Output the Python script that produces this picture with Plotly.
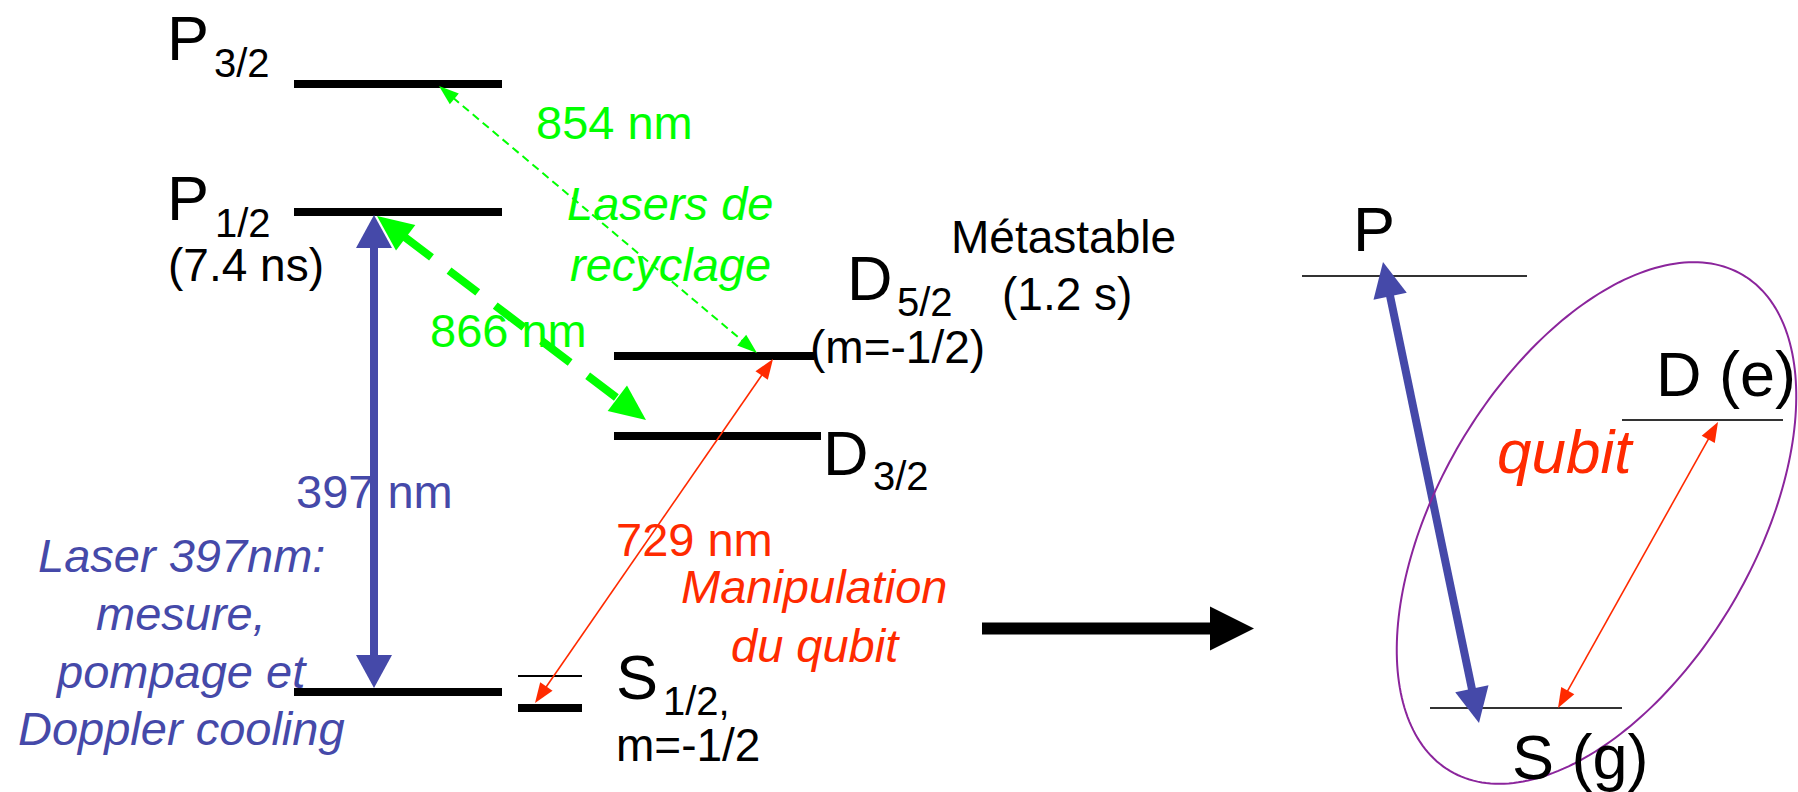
import numpy as np
import plotly.graph_objects as go

W, H = 1798, 792

BLACK = "#000000"
GREEN = "#00FF00"
RED = "#FF2A00"
BLUE = "#4549A9"
PURPLE = "#8B259C"
GREY = "#333333"

# ---------------- energy levels (left: Ca+ full scheme, right: 3-level) ----------------
level_names = ["P3/2", "P1/2", "D5/2", "D3/2", "S1/2", "S1/2 (m=+1/2)", "S1/2 (m=-1/2)",
               "P", "D (e)", "S (g)"]
level_y = [84, 212, 356, 436, 692, 676, 708, 276, 420, 708]
level_x0 = [294, 294, 614, 614, 294, 518, 518, 1302, 1622, 1430]
level_x1 = [502, 502, 814, 821, 502, 582, 582, 1527, 1783, 1622]
level_width = [8, 8, 8, 8, 8, 2, 8, 2, 2, 2]
level_color = [BLACK] * 7 + [GREY] * 3

# ---------------- transitions (endpoints on the levels) ----------------
trans_names = ["397 nm", "866 nm", "854 nm", "729 nm", "P-S", "qubit", "map"]
trans_x0 = [374, 377, 439, 773, 1383, 1718, 982]
trans_y0 = [215, 216, 86, 359, 262, 422, 628.5]
trans_x1 = [374, 646, 757, 535, 1479, 1558, 1254]
trans_y1 = [688, 420, 353, 703, 723, 708, 628.5]
trans_color = [BLUE, GREEN, GREEN, RED, BLUE, RED, BLACK]
trans_width = [8, 8, 2, 1.6, 8, 1.6, 12]
trans_head_len = [33, 36, 20, 20, 35, 20, 44]
trans_head_w = [36, 32, 14, 15, 34, 15, 44]
trans_both = [True, True, True, True, True, True, False]
trans_dash = ["solid", "36px,22px", "8px,5px", "solid", "solid", "solid", "solid"]

# ---------------- qubit ellipse ----------------
ell_cx, ell_cy, ell_a, ell_b, ell_angle = 1596.5, 523, 288, 158, -59.5

# ---------------- labels ----------------
# text, x, y (cap centre), size, colour, xanchor
labels = [
    ("P", 166, 37.5, 63, BLACK, "left"),
    ("3/2", 213, 62.5, 40, BLACK, "left"),
    ("P", 166, 197.5, 63, BLACK, "left"),
    ("1/2", 214, 222.5, 40, BLACK, "left"),
    ("(7.4 ns)", 167, 264.5, 46, BLACK, "left"),
    ("854 nm", 535, 122, 47, GREEN, "left"),
    ("<i>Lasers de</i>", 670, 203.5, 47, GREEN, "center"),
    ("<i>recyclage</i>", 670, 264, 47, GREEN, "center"),
    ("866 nm", 429, 330.5, 47, GREEN, "left"),
    ("D", 846, 277.5, 63, BLACK, "left"),
    ("5/2", 896, 302, 40, BLACK, "left"),
    ("(1.2 s)", 1001, 294, 46, BLACK, "left"),
    ("Métastable", 950, 237, 46, BLACK, "left"),
    ("(m=-1/2)", 809, 347, 46, BLACK, "left"),
    ("D", 822, 453, 63, BLACK, "left"),
    ("3/2", 872, 476, 40, BLACK, "left"),
    ("397 nm", 295, 491.5, 47, BLUE, "left"),
    ("<i>Laser 397nm:</i>", 181, 555.5, 47, BLUE, "center"),
    ("<i>mesure,</i>", 181, 613, 47, BLUE, "center"),
    ("<i>pompage et</i>", 181, 671, 47, BLUE, "center"),
    ("<i>Doppler cooling</i>", 181, 728, 47, BLUE, "center"),
    ("729 nm", 615, 539.5, 47, RED, "left"),
    ("<i>Manipulation</i>", 814, 586.5, 47, RED, "center"),
    ("<i>du qubit</i>", 815, 645, 47, RED, "center"),
    ("S", 615, 676.5, 63, BLACK, "left"),
    ("1/2,", 662, 701, 40, BLACK, "left"),
    ("m=-1/2", 615, 744.5, 46, BLACK, "left"),
    ("P", 1352, 228.5, 63, BLACK, "left"),
    ("D (e)", 1655, 374, 63, BLACK, "left"),
    ("<i>qubit</i>", 1496, 451, 62, RED, "left"),
    ("S (g)", 1511, 756.5, 63, BLACK, "left"),
]

FONT = "Liberation Sans, Arial, sans-serif"

shapes = []

# levels
for i in range(len(level_names)):
    shapes.append(dict(type="line", xref="x", yref="y",
                       x0=level_x0[i], x1=level_x1[i], y0=level_y[i], y1=level_y[i],
                       line=dict(color=level_color[i], width=level_width[i])))


def tri_path(tip, u, n, hl, hw):
    bx, by = tip[0] - u[0] * hl, tip[1] - u[1] * hl
    p1 = (bx + n[0] * hw / 2, by + n[1] * hw / 2)
    p2 = (bx - n[0] * hw / 2, by - n[1] * hw / 2)
    return f"M {tip[0]:.2f},{tip[1]:.2f} L {p1[0]:.2f},{p1[1]:.2f} L {p2[0]:.2f},{p2[1]:.2f} Z"


for i in range(len(trans_names)):
    p0 = np.array([trans_x0[i], trans_y0[i]], float)
    p1 = np.array([trans_x1[i], trans_y1[i]], float)
    d = p1 - p0
    L = np.hypot(*d)
    u = d / L
    n = np.array([-u[1], u[0]])
    hl, hw = trans_head_len[i], trans_head_w[i]
    s0 = p0 + u * hl * 0.9 if trans_both[i] else p0
    s1 = p1 - u * hl * 0.9
    shapes.append(dict(type="line", xref="x", yref="y",
                       x0=s0[0], y0=s0[1], x1=s1[0], y1=s1[1],
                       line=dict(color=trans_color[i], width=trans_width[i], dash=trans_dash[i])))
    shapes.append(dict(type="path", xref="x", yref="y", path=tri_path(p1, u, n, hl, hw),
                       fillcolor=trans_color[i], line=dict(width=0)))
    if trans_both[i]:
        shapes.append(dict(type="path", xref="x", yref="y", path=tri_path(p0, -u, -n, hl, hw),
                           fillcolor=trans_color[i], line=dict(width=0)))

# ellipse
t = np.linspace(0, 2 * np.pi, 241)
phi = np.deg2rad(ell_angle)
ex = ell_cx + ell_a * np.cos(t) * np.cos(phi) - ell_b * np.sin(t) * np.sin(phi)
ey = ell_cy + ell_a * np.cos(t) * np.sin(phi) + ell_b * np.sin(t) * np.cos(phi)
path = "M " + " L ".join(f"{a:.2f},{b:.2f}" for a, b in zip(ex, ey)) + " Z"
shapes.append(dict(type="path", xref="x", yref="y", path=path,
                   line=dict(color=PURPLE, width=2), fillcolor="rgba(0,0,0,0)"))

annotations = []
for text, x, y, size, color, xa in labels:
    annotations.append(dict(x=x, y=y, xref="x", yref="y", text=text, showarrow=False,
                            xanchor=xa, yanchor="middle", borderpad=0,
                            font=dict(family=FONT, size=size, color=color)))

fig = go.Figure()
fig.update_layout(
    width=W, height=H,
    margin=dict(l=0, r=0, t=0, b=0),
    paper_bgcolor="white", plot_bgcolor="white",
    xaxis=dict(range=[0, W], visible=False, fixedrange=True),
    yaxis=dict(range=[H, 0], visible=False, fixedrange=True),
    shapes=shapes, annotations=annotations, showlegend=False,
)
fig.write_html("out.html", config={"displayModeBar": False})
